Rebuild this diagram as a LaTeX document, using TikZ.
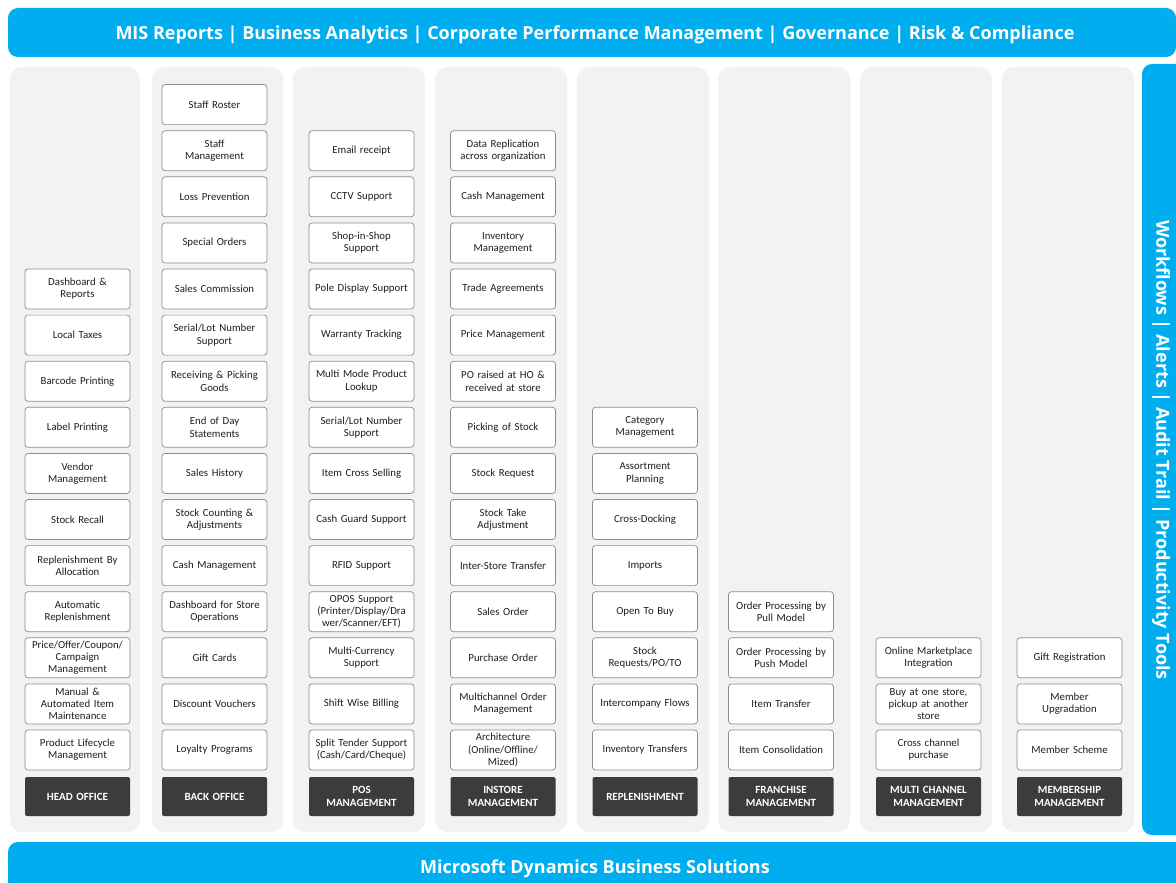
\documentclass[tikz,border=0pt]{standalone}
\usepackage{fontspec}
\setmainfont{Carlito}
\newfontfamily\bannerfont{Open Sans}
\definecolor{msblue}{HTML}{00AEEF}
\definecolor{panelgray}{HTML}{F2F2F2}
\definecolor{boxline}{HTML}{8C8C8C}
\definecolor{labeldark}{HTML}{3C3C3C}
\begin{document}
\begin{tikzpicture}[x=1pt,y=-1pt,
  banner/.style={fill=msblue, draw=none, rounded corners=10pt},
  bannertext/.style={text=white, font=\bannerfont\fontsize{18}{22}\selectfont\bfseries},
  panel/.style={fill=panelgray, draw=none, rounded corners=12pt},
  item/.style={draw=boxline, line width=0.7pt, fill=white, rounded corners=3pt,
    minimum width=105pt, minimum height=40pt, text width=103pt, align=center,
    inner sep=0pt, font=\fontsize{10.8}{12.2}\selectfont, text=black!88},
  catlabel/.style={fill=labeldark, draw=none, rounded corners=2pt,
    minimum width=105pt, minimum height=39pt, text width=103pt, align=center,
    inner sep=0pt, text=white, font=\fontsize{11}{12.2}\selectfont\bfseries}]
\useasboundingbox (0,0) rectangle (1176,883);
\fill[white] (0,0) rectangle (1176,883);
% banners
\path[banner] (8,8) rectangle (1176,57);
\node[bannertext] (topt) at (595,35) {MIS Reports | Business Analytics | Corporate Performance Management | Governance | Risk \& Compliance};
\path[banner] (8,842) rectangle (1196,903);
\node[bannertext] (bott) at (595,868.5) {Microsoft Dynamics Business Solutions};
\path[banner] (1142,64) rectangle (1196,835);
\node[bannertext, rotate=-90, font=\bannerfont\fontsize{18}{22}\selectfont\bfseries] (rightt) at (1161,450) {Workflows | Alerts | Audit Trail | Productivity Tools};
% panels
\foreach \l/\r [count=\i] in {10/140,152/283,293/425,435/567,577/709,718/850,860/992,1002/1134}
  \path[panel] (\l,67) rectangle (\r,832);
% column 1
\foreach \t [count=\k from 0] in {{Dashboard \&\\Reports},Local Taxes,Barcode Printing,Label Printing,{Vendor\\Management},Stock Recall,{Replenishment By\\Allocation},{Automatic\\Replenishment},{Price/Offer/Coupon/\\Campaign\\Management},{Manual \&\\Automated Item\\Maintenance},{Product Lifecycle\\Management}}
  \node[item] (a\k) at (77.5,{750-46.1*(10-\k)}) {\t};
\node[catlabel] (la) at (77.5,796.5) {HEAD OFFICE};
% column 2
\foreach \t [count=\k from 0] in {Staff Roster,{Staff\\Management},Loss Prevention,Special Orders,Sales Commission,{Serial/Lot Number\\Support},{Receiving \& Picking\\Goods},{End of Day\\Statements},Sales History,{Stock Counting \&\\Adjustments},Cash Management,{Dashboard for Store\\Operations},Gift Cards,Discount Vouchers,Loyalty Programs}
  \node[item] (b\k) at (214.5,{750-46.1*(14-\k)}) {\t};
\node[catlabel] (lb) at (214.5,796.5) {BACK OFFICE};
% column 3
\foreach \t [count=\k from 0] in {Email receipt,CCTV Support,{Shop-in-Shop\\Support},Pole Display Support,Warranty Tracking,{Multi Mode Product\\Lookup},{Serial/Lot Number\\Support},Item Cross Selling,Cash Guard Support,RFID Support,{OPOS Support\\(Printer/Display/Dra\\wer/Scanner/EFT)},{Multi-Currency\\Support},Shift Wise Billing,{Split Tender Support\\(Cash/Card/Cheque)}}
  \node[item] (c\k) at (361.5,{750-46.1*(13-\k)}) {\t};
\node[catlabel] (lc) at (361.5,796.5) {POS\\MANAGEMENT};
% column 4
\foreach \t [count=\k from 0] in {{Data Replication\\across organization},Cash Management,{Inventory\\Management},Trade Agreements,Price Management,{PO raised at HO \&\\received at store},Picking of Stock,Stock Request,{Stock Take\\Adjustment},Inter-Store Transfer,Sales Order,Purchase Order,{Multichannel Order\\Management},{Architecture\\(Online/Offline/\\Mized)}}
  \node[item] (d\k) at (503,{750-46.1*(13-\k)}) {\t};
\node[catlabel] (ld) at (503,796.5) {INSTORE\\MANAGEMENT};
% column 5
\foreach \t [count=\k from 0] in {{Category\\Management},{Assortment\\Planning},Cross-Docking,Imports,Open To Buy,{Stock\\Requests/PO/TO},Intercompany Flows,Inventory Transfers}
  \node[item] (e\k) at (645,{750-46.1*(7-\k)}) {\t};
\node[catlabel] (le) at (645,796.5) {REPLENISHMENT};
% column 6
\foreach \t [count=\k from 0] in {{Order Processing by\\Pull Model},{Order Processing by\\Push Model},Item Transfer,Item Consolidation}
  \node[item] (f\k) at (781,{750-46.1*(3-\k)}) {\t};
\node[catlabel] (lf) at (781,796.5) {FRANCHISE\\MANAGEMENT};
% column 7
\foreach \t [count=\k from 0] in {{Online Marketplace\\Integration},{Buy at one store,\\pickup at another\\store},{Cross channel\\purchase}}
  \node[item] (g\k) at (928.5,{750-46.1*(2-\k)}) {\t};
\node[catlabel] (lg) at (928.5,796.5) {MULTI CHANNEL\\MANAGEMENT};
% column 8
\foreach \t [count=\k from 0] in {Gift Registration,{Member\\Upgradation},Member Scheme}
  \node[item] (h\k) at (1069.5,{750-46.1*(2-\k)}) {\t};
\node[catlabel] (lh) at (1069.5,796.5) {MEMBERSHIP\\MANAGEMENT};
\end{tikzpicture}
\end{document}
